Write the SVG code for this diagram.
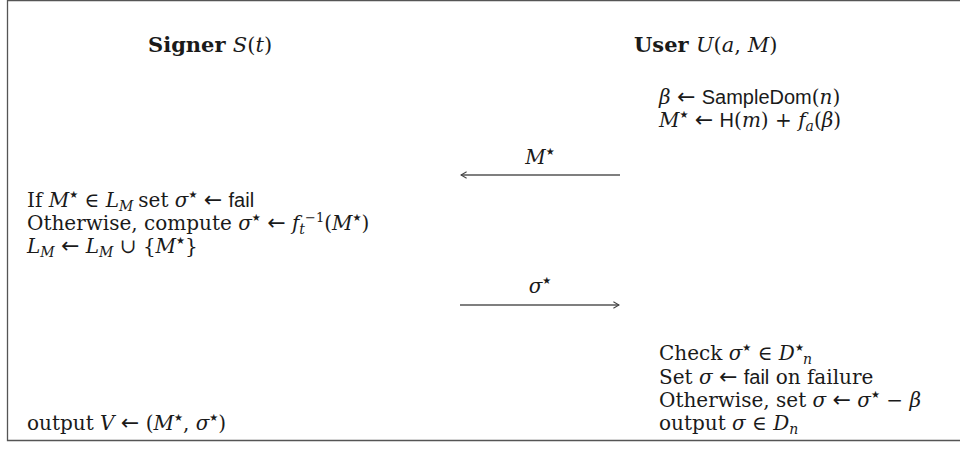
<svg xmlns="http://www.w3.org/2000/svg" width="960" height="470" viewBox="0 0 960 470">
<style>
text{font-family:"DejaVu Serif","Liberation Serif",serif;font-size:20px;fill:#1a1a1a}
.t{font-size:21px}
.b{font-weight:bold}
.i{font-style:italic}
.s{font-family:"Liberation Sans",Arial,sans-serif;font-size:20px}
.sub{font-size:14px;font-style:italic}
.st{font-family:"DejaVu Sans",sans-serif;font-size:10px}
.ar{font-family:"DejaVu Sans",sans-serif;font-size:22px}
.sup{font-size:13px}
.conn{stroke:#555;stroke-width:1.4;fill:none}
</style>
<defs>
<marker id="ah" viewBox="0 0 10 10" refX="9" refY="5" markerWidth="8" markerHeight="8" markerUnits="userSpaceOnUse" orient="auto">
<path d="M2,1 L9,5 L2,9" fill="none" stroke="#444" stroke-width="1.3"/>
</marker>
</defs>
<rect x="0" y="0" width="960" height="470" fill="#fff"/>
<path d="M975,0.5 H7.5 V440.5 H975" fill="none" stroke="#555" stroke-width="1.3"/>

<g id="signer-title"><text class="t" x="148" y="52"><tspan class="b">Signer </tspan><tspan class="i">S</tspan>(<tspan class="i">t</tspan>)</text></g>
<g id="user-title"><text class="t" x="634" y="52"><tspan class="b">User </tspan><tspan class="i">U</tspan>(<tspan class="i">a</tspan>, <tspan class="i">M</tspan>)</text></g>

<g id="user-step1">
<text x="659" y="104"><tspan class="i">β</tspan> <tspan class="ar">←</tspan> <tspan class="s">SampleDom</tspan>(<tspan class="i">n</tspan>)</text>
<text x="659" y="127"><tspan class="i">M</tspan><tspan class="st" dy="-9">★</tspan><tspan dy="9"> </tspan><tspan class="ar">←</tspan> <tspan class="s">H</tspan>(<tspan class="i">m</tspan>) + <tspan class="i">f</tspan><tspan class="sub" dy="4">a</tspan><tspan dy="-4">(</tspan><tspan class="i">β</tspan>)</text>
</g>

<g id="signer-step">
<text x="27" y="207">If <tspan class="i">M</tspan><tspan class="st" dy="-9">★</tspan><tspan dy="9"> ∈ </tspan><tspan class="i">L</tspan><tspan class="sub" dy="4">M</tspan><tspan dx="5" dy="-4">set </tspan><tspan class="i">σ</tspan><tspan class="st" dy="-9">★</tspan><tspan dy="9"> </tspan><tspan class="ar">←</tspan> <tspan class="s">fail</tspan></text>
<text x="27" y="230">Otherwise, compute <tspan class="i">σ</tspan><tspan class="st" dy="-9">★</tspan><tspan dy="9"> </tspan><tspan class="ar">←</tspan> <tspan class="i">f</tspan><tspan class="sub" dy="4">t</tspan><tspan class="sup" dy="-12">−1</tspan><tspan dy="8">(</tspan><tspan class="i">M</tspan><tspan class="st" dy="-9">★</tspan><tspan dy="9">)</tspan></text>
<text x="27" y="253"><tspan class="i">L</tspan><tspan class="sub" dy="4">M</tspan><tspan dy="-4"> </tspan><tspan class="ar">←</tspan> <tspan class="i">L</tspan><tspan class="sub" dy="4">M</tspan><tspan dy="-4"> ∪ {</tspan><tspan class="i">M</tspan><tspan class="st" dy="-9">★</tspan><tspan dy="9">}</tspan></text>
</g>

<g id="user-step2">
<text x="659" y="360">Check <tspan class="i">σ</tspan><tspan class="st" dy="-9">★</tspan><tspan dy="9"> ∈ </tspan><tspan class="i">D</tspan><tspan class="st" dy="-9">★</tspan><tspan class="sub" dx="-1" dy="13">n</tspan></text>
<text x="659" y="384">Set <tspan class="i">σ</tspan> <tspan class="ar">←</tspan> <tspan class="s">fail</tspan> on failure</text>
<text x="659" y="407">Otherwise, set <tspan class="i">σ</tspan> <tspan class="ar">←</tspan> <tspan class="i">σ</tspan><tspan class="st" dy="-9">★</tspan><tspan dy="9"> − </tspan><tspan class="i">β</tspan></text>
<text x="659" y="430">output <tspan class="i">σ</tspan> ∈ <tspan class="i">D</tspan><tspan class="sub" dy="4">n</tspan></text>
</g>

<g id="signer-output">
<text x="27" y="430">output <tspan class="i">V</tspan> <tspan class="ar">←</tspan> (<tspan class="i">M</tspan><tspan class="st" dy="-9">★</tspan><tspan dy="9">, </tspan><tspan class="i">σ</tspan><tspan class="st" dy="-9">★</tspan><tspan dy="9">)</tspan></text>
</g>

<g id="connectors">
<line class="conn" x1="620" y1="175" x2="461" y2="175" marker-end="url(#ah)"/>
<text x="540" y="164" text-anchor="middle"><tspan class="i">M</tspan><tspan class="st" dy="-9">★</tspan></text>
<line class="conn" x1="460" y1="305" x2="619" y2="305" marker-end="url(#ah)"/>
<text x="540" y="293" text-anchor="middle"><tspan class="i">σ</tspan><tspan class="st" dy="-9">★</tspan></text>
</g>
</svg>
